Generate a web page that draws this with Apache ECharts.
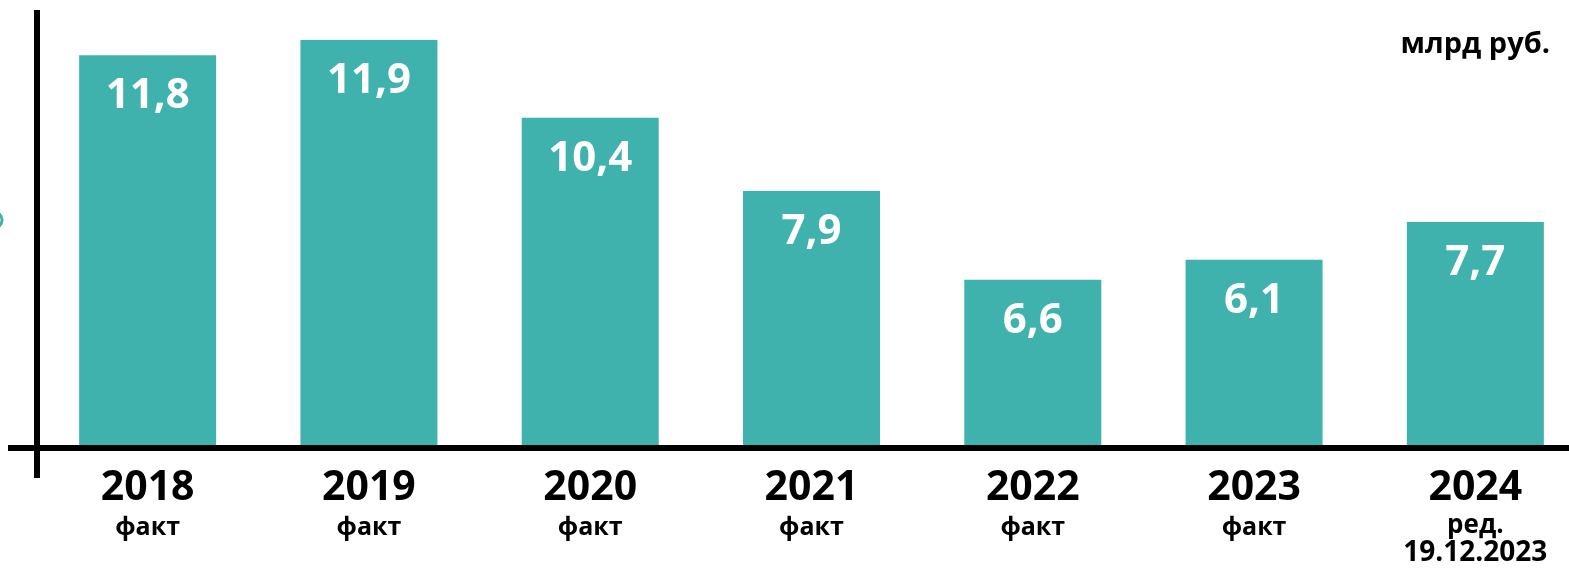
<!DOCTYPE html>
<html>
<head>
<meta charset="utf-8">
<script src="https://cdn.jsdelivr.net/npm/echarts@6/dist/echarts.min.js"></script>
<style>
html,body{margin:0;padding:0;background:#fff;}
#c{width:1569px;height:568px;}
</style>
</head>
<body>
<div id="c"></div>
<script>
// Data
const years = ['2018', '2019', '2020', '2021', '2022', '2023', '2024'];
const subLabels = ['факт', 'факт', 'факт', 'факт', 'факт', 'факт', 'ред.\n19.12.2023'];
const values = ['11,8', '11,9', '10,4', '7,9', '6,6', '6,1', '7,7'];   // labels shown on bars, млрд руб.
const barHeights = [11.40, 11.84, 9.58, 7.46, 4.88, 5.46, 6.56];       // bar heights as drawn in the picture
const unitLabel = 'млрд руб.';

const TEAL = '#3FB2AE';
const FONT = '"Open Sans", "Noto Sans", sans-serif';

const chart = echarts.init(document.getElementById('c'));
chart.setOption({
  animation: false,
  backgroundColor: '#ffffff',
  title: {
    text: unitLabel,
    right: 14,
    top: 25,
    textStyle: { fontFamily: FONT, fontWeight: 'bold', fontSize: 29, color: '#000' }
  },
  grid: { left: 37, width: 1549, top: 0, bottom: 120, containLabel: false, outerBoundsMode: 'none' },
  xAxis: {
    type: 'category',
    data: years,
    axisLine: { show: false },
    axisTick: { show: false },
    axisLabel: {
      interval: 0,
      margin: 18,
      formatter: function (v, i) {
        const sub = subLabels[i].split('\n');
        if (sub.length > 1) {
          return '{y|' + v + '}\n{r|' + sub[0] + '}\n{d|' + sub[1] + '}';
        }
        return '{y|' + v + '}\n{s|' + sub[0] + '}';
      },
      rich: {
        y: { fontFamily: FONT, fontWeight: 'bold', fontSize: 41, lineHeight: 44, color: '#000' },
        s: { fontFamily: FONT, fontWeight: 'bold', fontSize: 25, lineHeight: 36, color: '#000' },
        r: { fontFamily: FONT, fontWeight: 'bold', fontSize: 26, lineHeight: 32, color: '#000' },
        d: { fontFamily: FONT, fontWeight: 'bold', fontSize: 28, lineHeight: 22, color: '#000' }
      }
    }
  },
  yAxis: {
    type: 'value',
    min: 0,
    max: 13,
    show: false,
    splitLine: { show: false }
  },
  series: [{
    type: 'bar',
    data: barHeights,
    barWidth: 137,
    itemStyle: { color: TEAL },
    label: {
      show: true,
      position: 'insideTop',
      distance: 20,
      formatter: function (p) { return values[p.dataIndex]; },
      fontFamily: FONT,
      fontWeight: 'bold',
      fontSize: 42,
      color: '#ffffff'
    }
  }],
  graphic: [
    { type: 'line', z: 100, shape: { x1: 8, y1: 448, x2: 1569, y2: 448 }, style: { stroke: '#000', lineWidth: 6 } },
    { type: 'line', z: 100, shape: { x1: 37, y1: 10, x2: 37, y2: 478 }, style: { stroke: '#000', lineWidth: 6 } },
    { type: 'circle', z: 100, shape: { cx: -6, cy: 220, r: 8 }, style: { fill: 'none', stroke: TEAL, lineWidth: 3 } }
  ]
});
</script>
</body>
</html>
